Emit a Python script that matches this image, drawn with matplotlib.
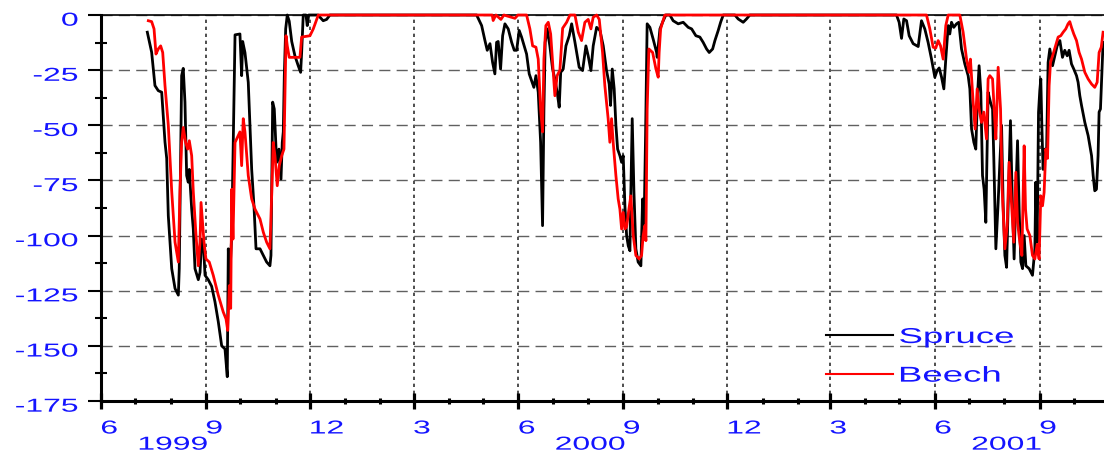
import numpy as np
import matplotlib
matplotlib.use("Agg")
import matplotlib.pyplot as plt
import matplotlib.patheffects as pe
from matplotlib.ticker import FixedLocator, MultipleLocator
from matplotlib.transforms import Affine2D, ScaledTranslation, blended_transform_factory

# -----------------------------
# Data: days since 1 June 1999
# -----------------------------
spruce_day = [40.6, 44.4, 47.3, 50.2, 53.2, 56.1, 57.6, 59.0, 62.0, 64.9, 67.8, 68.6, 70.7, 72.1, 73.6,
              75.1, 76.5, 77.4, 79.5, 80.9, 82.4, 85.3, 86.8, 88.3, 89.7, 91.2, 94.0, 97.0, 99.9, 102.8,
              105.8, 108.7, 110.7, 111.6, 112.5, 114.6, 117.5, 121.8, 123.3, 124.2, 126.2, 129.1, 132.1,
              134.1, 135.9, 139.4, 142.3, 145.2, 148.1, 149.0, 150.5, 151.9, 154.0, 156.0, 157.8, 158.9,
              159.8, 160.7, 161.9, 163.3, 165.0, 167.2, 170.0, 172.9, 175.0, 175.9, 177.3, 179.7, 180.8,
              182.1, 190.2, 194.8, 197.8, 200.7,
              329.3, 333.7, 336.6, 338.6, 341.0, 343.3, 345.3, 346.8, 348.2, 350.3, 352.1, 354.1, 357.0,
              360.0, 362.3, 364.4, 366.6, 368.7, 371.0, 373.1, 375.4, 377.5, 379.5, 381.3, 383.3, 385.4,
              387.1, 388.3, 389.4, 391.2, 393.5, 395.9, 397.9, 399.9, 401.7, 403.0, 405.2, 407.6, 410.5,
              412.6, 415.5, 419.2, 422.2, 425.1, 427.1, 429.5, 431.5, 434.5, 437.4, 440.3, 443.2, 445.5,
              446.7, 448.2, 449.9, 451.4, 452.9, 454.9, 456.4, 457.8, 459.3, 460.8, 462.2, 463.7, 464.5,
              465.7, 467.2, 468.9, 470.9, 473.3, 474.8, 475.9, 477.4, 478.8, 481.2, 484.1, 487.1, 487.6,
              490.0, 492.3, 495.2, 498.7, 501.6, 506.0, 510.4, 514.8, 517.8, 521.5, 525.0, 527.9, 530.9,
              533.2, 536.2, 538.2, 541.1, 543.2, 545.5, 555.7, 558.6, 563.0, 565.9, 568.8,
              697.4, 699.7, 701.8, 703.8, 706.2, 708.5, 712.0, 716.4, 719.3, 722.2, 725.1, 728.1, 731.0,
              733.0, 734.8, 736.9, 738.9, 740.6, 742.7, 744.1, 745.6, 747.6, 750.0, 752.0, 754.4, 757.3,
              760.2, 761.7, 763.2, 765.2, 766.9, 768.4, 769.8, 771.3, 772.8, 774.2, 775.7, 777.7, 779.8,
              781.6, 782.7, 784.5, 786.5, 788.0, 789.5, 790.9, 792.4, 793.9, 795.2, 797.3, 798.8, 800.5,
              802.0, 803.5, 804.9, 806.4, 807.9, 809.3, 810.8, 813.7, 816.6, 818.7, 819.5, 820.7, 821.9,
              823.0, 823.9, 824.8, 825.9, 827.4, 828.9, 830.3, 831.8, 834.2, 836.2, 838.2, 840.6, 842.9,
              844.9, 847.0, 848.7, 850.8, 852.8, 855.2, 856.6, 858.1, 859.6, 862.5, 865.4, 868.4, 869.8,
              871.2, 872.7, 874.1, 875.0, 876.2, 878.5]
spruce_val = [-7.8, -16.9, -32, -34.3, -35, -57.6, -65, -91, -115, -124, -127, -115, -27.5, -24.2, -39.5,
              -72.8, -75.8, -70, -88, -97, -115, -120, -116.7, -101.6, -103, -118, -120, -123, -130, -139,
              -150, -151.4, -164, -106, -123, -100, -9, -8.6, -27.5, -12, -17, -30.5, -70,
              -86.5, -106, -106, -109, -112, -113.7, -109, -39.5, -42.6, -66.8, -60.8, -74.4, -57.8,
              -53, -27.5, -6.3, 0, -2.8, -12, -18.5, -23, -26, -17, 0, 0, -4.8,
              0, 0, -2.6, -2, 0,
              0, -4.8, -11.6, -16, -13, -21.5, -26.7, -12.4, -12, -24.5, -9.4, -4, -6.3,
              -12.4, -16, -16, -7, -10, -14, -17.7, -26.7, -29.8, -32.8, -27.5, -35, -57.7,
              -95.5, -42.6, -12.4, -6.3, -14, -24.5, -29, -35, -41.8, -26, -24.5, -14, -9.4,
              -4, -12.4, -23.7, -25.2, -14, -18.5, -25.2, -14, -5.6, -7, -14, -25.2, -31.3,
              -41, -24.5, -33.5, -50, -60.8, -63.8, -66.8, -63.8, -86.5, -100, -104.6, -106.9, -80.4,
              -47, -80, -106, -112, -113.7, -83.4, -101.6, -54.7, -4, -5.6, -11, -17, -19.2,
              -6.3, -3.3, 0, 0, -2.6, -4, -3.3, -5.6, -6.3, -9.4, -10, -12.4, -15.4,
              -17, -15.4, -11.6, -7, -3.3, 0, 0, -1.8, -3.3, -1.8, 0,
              0, -3.3, -10.6, -1.8, -2.6, -9.4, -13, -14.3, -2.6, -6.3, -12.4, -20, -28.2,
              -25.2, -24, -28.2, -33.5, -20, -4.8, -8.6, -3.3, -5.6, -4, -3.3, -15.4, -22.2,
              -27.5, -33.5, -51.7, -57.7, -60.8, -36.6, -23, -35, -72.8, -79, -94, -35, -39.6,
              -42.6, -65, -106, -85, -66.8, -50, -86.5, -109, -114.4, -88, -47.9, -82, -110.6,
              -82, -57, -88, -112, -115, -100, -113.7, -115, -118, -106, -75.8, -103, -44.1,
              -34.3, -29, -50, -70, -60.8, -63.8, -21.5, -15.4, -23, -18.5, -14, -11.6, -19.2,
              -16, -18.5, -16, -22.2, -24.5, -27.5, -30.5, -36.6, -41, -48.7, -54.7, -63.8, -72.8,
              -79.7, -79, -63.8, -44, -42.6, -12.4]

beech_day = [41.5, 44.4, 46.5, 48.2, 50.2, 52.3, 54.1, 56.1, 59.0, 62.0, 64.9, 67.8, 69.2, 70.7, 72.1,
             74.2, 76.0, 77.4, 79.5, 80.9, 83.3, 85.3, 86.8, 87.7, 88.8, 90.3, 92.0, 94.9, 98.4, 102.8,
             107.2, 109.6, 111.1, 112.5, 113.7, 114.6, 115.7, 117.5, 120.3, 121.8, 123.3, 124.7, 126.2,
             129.1, 132.1, 135.0, 139.4, 142.3, 145.2, 148.1, 149.6, 151.0, 152.5, 154.5, 156.3, 158.4,
             160.4, 162.2, 163.3, 165.0, 174.4, 175.9, 183.2, 186.1, 190.5,
             343.0, 343.8, 346.2, 350.6, 353.2, 362.9, 365.5, 373.1, 376.0, 378.4, 381.3, 383.3, 385.4,
             387.1, 388.3, 390.0, 392.1, 394.2, 395.9, 397.9, 399.9, 402.3, 404.7, 408.2, 411.1, 415.5,
             418.4, 421.3, 424.2, 427.1, 429.5, 431.5, 434.5, 436.8, 439.7, 441.7, 444.6, 446.1, 447.6,
             449.0, 451.4, 453.4, 454.9, 456.4, 457.8, 459.3, 460.8, 462.8, 464.5, 466.6, 468.9, 471.8,
             473.9, 475.3, 476.8, 477.7, 478.8, 480.3, 483.6, 486.5, 488.5, 489.3, 490.6, 492.3, 494.3,
             723.7, 726.6, 729.5, 731.8, 733.9, 736.0, 738.3, 740.6, 742.7, 752.9, 755.8, 758.8, 761.1,
             762.2, 764.6, 766.3, 768.1, 769.8, 771.9, 773.9, 776.3, 777.7, 779.2, 781.6, 783.0, 784.5,
             786.5, 788.6, 790.0, 792.4, 794.4, 796.1, 798.2, 800.2, 802.0, 803.5, 805.5, 807.3, 808.4,
             809.3, 810.5, 811.9, 814.3, 816.6, 818.7, 820.7, 822.4, 823.9, 825.4, 826.8, 828.3, 829.8,
             831.2, 832.4, 834.7, 836.8, 839.1, 841.4, 843.5, 845.8, 847.8, 849.3, 850.8, 852.8, 855.2,
             857.5, 859.6, 862.5, 865.4, 868.4, 871.2, 873.3, 875.0, 876.9, 878.5]
beech_val = [-2.6, -3, -6.3, -17.7, -15.4, -14, -17, -32, -50, -80, -103, -112, -80, -57.8, -51,
             -57.8, -60.8, -57, -63.8, -80, -100, -113.7, -103, -85, -92.5, -103, -110.6, -112, -118, -127,
             -134.7, -137.8, -143, -122.7, -133, -79, -101.6, -57.8, -54.7, -53, -68.3, -47, -53,
             -72.8, -83.4, -88, -92.5, -98.5, -103, -106, -82, -57.8, -63.8, -77.4, -68.3, -63.8,
             -60.8, -9.4, -14, -19.2, -19.2, -10, -9.4, -6.3, 0,
             0, -2.5, 0, -2, 0, -1.5, 0, 0, -6.3, -14, -14.6, -20, -42.6,
             -53, -20, -4.8, -3.3, -8.6, -21.5, -36.6, -27.5, -25, -6, -3.3, 0, 0,
             -7.8, -11.6, -3.3, -2, -6.3, -1, 0, -2, -17, -32, -47, -57.7, -47,
             -57.7, -72.8, -83.4, -88, -97, -89.5, -97, -96, -88, -82, -100, -109, -110.6,
             -109, -100, -95.5, -102.3, -42.6, -15.4, -17, -24.5, -28.2, -17, -6.3, -3.3, 0,
             0, -6.3, -14.6, -15, -11.6, -14, -20, -4.8, 0, 0, -7.8, -20, -26,
             -20, -39.6, -51.7, -33.5, -42.6, -48.7, -44, -56.2, -29, -27.5, -29, -42.6, -56.2,
             -23.7, -42.6, -79, -106, -95.5, -66.8, -85, -103, -71.3, -94, -103, -109, -82,
             -59.3, -88, -97, -100, -109, -110.6, -104, -110.6, -82, -86.5, -80.4, -60.8, -65,
             -32, -21.5, -17.7, -14, -10, -9.4, -7.8, -6.3, -4, -3, -5.6, -8.6, -11.6,
             -17, -20, -26, -29, -31.3, -32.8, -30.5, -17, -14.6, -7.8]

# month ticks from June 1999 to October 2001
months = np.arange("1999-06", "2001-11", dtype="datetime64[M]")
month_day = (months.astype("datetime64[D]") - np.datetime64("1999-06-01")).astype(int)
month_num = months.astype(int) % 12 + 1
year_labels = ["1999", "2000", "2001"]
year_day = [63, 429, 794]

BLUE = "#1414ff"
plt.rcParams["font.family"] = ["Liberation Sans", "DejaVu Sans"]
plt.rcParams["axes.unicode_minus"] = False


class Stretch(pe.AbstractPathEffect):
    """Widen glyphs horizontally, like the wide font of the original plot."""

    def __init__(self, sx=1.7, anchor="left"):
        super().__init__()
        self.sx = sx
        self.anchor = anchor

    def draw_path(self, renderer, gc, tpath, affine, rgbFace=None):
        ext = tpath.get_extents(affine)
        cx = {"left": ext.x0, "center": 0.5 * (ext.x0 + ext.x1), "right": ext.x1}[self.anchor]
        t = affine + Affine2D().translate(-cx, 0).scale(self.sx, 1).translate(cx, 0)
        renderer.draw_path(gc, tpath, t, rgbFace)


fig = plt.figure(figsize=(11.04, 4.52), dpi=100)
ax = fig.add_axes([101 / 1104, 50 / 452, 1003 / 1104, 386 / 452])

ax.plot(spruce_day, spruce_val, color="black", lw=2.0, clip_on=False, zorder=3, label="Spruce")
ax.plot(beech_day, beech_val, color="#ff0000", lw=2.0, clip_on=False, zorder=4, label="Beech")

ax.set_xlim(0, 879.3)
ax.set_ylim(-175, 0)

# axes frame
ax.spines["right"].set_visible(False)
ax.spines["top"].set_linewidth(1.2)
ax.spines["left"].set_linewidth(2.2)
ax.spines["bottom"].set_linewidth(2.2)

# ticks
ax.xaxis.set_major_locator(FixedLocator(month_day[::3]))
ax.xaxis.set_minor_locator(FixedLocator(month_day))
ax.set_xticklabels([str(m) for m in month_num[::3]])
ax.yaxis.set_major_locator(MultipleLocator(25))
ax.yaxis.set_minor_locator(MultipleLocator(12.5))

ax.tick_params(axis="x", which="major", direction="inout", length=11.5, width=2.3,
               pad=8.3, labelsize=13.5, labelcolor=BLUE)
ax.tick_params(axis="x", which="minor", direction="inout", length=5, width=2.2)
ax.tick_params(axis="y", which="major", direction="out", length=9.4, width=1.5,
               pad=7, labelsize=13.5, labelcolor=BLUE)
ax.tick_params(axis="y", which="minor", direction="inout", length=8.6, width=1.5)

# grid
ax.set_axisbelow(True)
ax.yaxis.grid(True, which="major", color="#606060", lw=1.0, ls=(0, (8, 4.5)))
ax.xaxis.grid(True, which="major", color="#303030", lw=1.2, ls=(0, (2, 2.2)))

# year labels under the month numbers
trans = blended_transform_factory(ax.transData, fig.transFigure)
for d, y in zip(year_day, year_labels):
    ax.text(d, 0.003, y, transform=trans, ha="center", va="baseline", fontsize=13.5,
            color=BLUE, path_effects=[Stretch(1.7, "center")])

# legend
leg = ax.legend(loc="upper left", bbox_to_anchor=(826 / 1104, 1 - 328 / 452),
                bbox_transform=fig.transFigure, frameon=False, fontsize=15.5,
                labelcolor=BLUE, handlelength=3.1, handletextpad=0.3,
                labelspacing=0.82, borderpad=0, borderaxespad=0)
for line in leg.get_lines():
    line.set_linewidth(1.5)
for t in leg.get_texts():
    t.set_path_effects([Stretch(1.7, "left")])

# wide tick label text
for lab in ax.get_xticklabels():
    lab.set_horizontalalignment("left")
    lab.set_path_effects([Stretch(1.7, "left")])
shift = ScaledTranslation(0, -3 / 72, fig.dpi_scale_trans)
for lab in ax.get_yticklabels():
    lab.set_path_effects([Stretch(1.7, "right")])
    lab.set_transform(lab.get_transform() + shift)

fig.savefig("out.png", dpi=100)
